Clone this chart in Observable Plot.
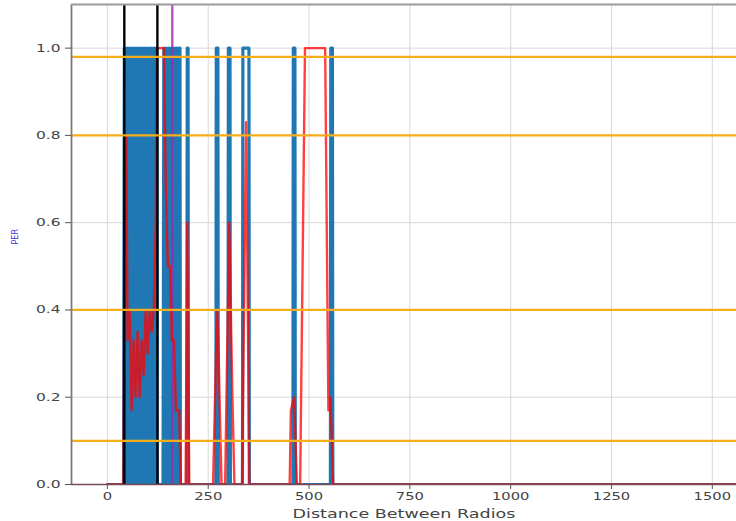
<!DOCTYPE html>
<html>
<head>
<meta charset="utf-8">
<script src="https://cdn.jsdelivr.net/npm/d3@7"></script>
<script src="https://cdn.jsdelivr.net/npm/@observablehq/plot@0.6"></script>
<style>
  html, body { margin: 0; padding: 0; background: #fff; }
</style>
</head>
<body>
<div id="chart"></div>
<script>
// ---- data ----
const xTicks = [0, 250, 500, 750, 1000, 1250, 1500];
const yTicks = [0.0, 0.2, 0.4, 0.6, 0.8, 1.0];
const thresholds = [0.98, 0.8, 0.4, 0.1];
const blackMarkers = [42, 124];
const purpleMarkers = [161];

// blue series: packet error (0 / 1) vs distance
const blueDist = [0, 40,
  42, 45, 48, 51, 54, 57, 60, 63, 66, 67, 69, 71, 73, 76, 79, 82, 85, 88, 91, 94, 97, 100, 103, 106, 109, 110, 112, 114, 116, 119, 121, 123, 124,
  138, 140, 143, 146, 149, 152, 155, 158, 161, 164, 167, 170, 171, 173, 175, 177, 180, 181,
  197, 198, 200, 201,
  269, 270, 274, 275,
  299, 300, 304, 305,
  335, 336, 351, 352,
  460, 461, 465, 466,
  553, 554, 558, 559,
  1650];
const bluePER = [0, 0,
  1, 0, 1, 0, 1, 0, 1, 0, 1, 1, 0, 0, 1, 0, 1, 0, 1, 0, 1, 0, 1, 0, 1, 0, 1, 1, 0, 0, 1, 0, 1, 1, 0,
  0, 1, 0, 1, 0, 1, 0, 1, 0, 1, 0, 1, 1, 0, 0, 1, 1, 0,
  0, 1, 1, 0,
  0, 1, 1, 0,
  0, 1, 1, 0,
  0, 1, 1, 0,
  0, 1, 1, 0,
  0, 1, 1, 0,
  0];

// red series: averaged PER vs distance
const redDist = [0, 40, 43, 47, 50, 55, 60, 65, 70, 75, 80, 85, 90, 95, 100, 105, 110, 115, 120, 122,
  140, 145, 150, 155, 160, 165, 170, 178, 182,
  194, 198, 203,
  262, 272, 275, 283,
  292, 302, 310, 315,
  334, 344, 352,
  452, 455, 463, 470,
  478, 490, 540, 548, 553, 560,
  1650];
const redPER = [0, 0, 0.8, 0.8, 0.33, 0.4, 0.17, 0.33, 0.2, 0.35, 0.2, 0.33, 0.25, 0.4, 0.3, 0.4, 0.35, 0.4, 0.6, 1.0,
  1.0, 0.67, 0.5, 0.5, 0.33, 0.33, 0.17, 0.17, 0,
  0, 0.6, 0,
  0, 0.4, 0.33, 0,
  0, 0.6, 0.2, 0,
  0, 0.83, 0,
  0, 0.17, 0.2, 0,
  0, 1.0, 1.0, 0.17, 0.2, 0,
  0];

const blue = blueDist.map((d, i) => ({d, v: bluePER[i]}));
const red = redDist.map((d, i) => ({d, v: redPER[i]}));

const chart = Plot.plot({
  width: 736,
  height: 521,
  marginLeft: 71,
  marginRight: 0,
  marginTop: 4,
  marginBottom: 37,
  style: {fontFamily: "DejaVu Sans", fontSize: "10.5px", color: "#444", background: "#fff"},
  x: {domain: [-89, 1560]},
  y: {domain: [0, 1.1]},
  marks: [
    Plot.gridX(xTicks, {stroke: "#d8d8d8", strokeOpacity: 1, strokeWidth: 1}),
    Plot.gridY(yTicks, {stroke: "#d8d8d8", strokeOpacity: 1, strokeWidth: 1}),
    Plot.line(blue, {x: "d", y: "v", stroke: "#1f77b4", strokeWidth: 3.2, strokeLinejoin: "round", curve: "linear", clip: true}),
    Plot.ruleX(purpleMarkers, {stroke: "#9c2aa8", strokeWidth: 2.2, strokeOpacity: 0.85}),
    Plot.line(red, {x: "d", y: "v", stroke: "#ff0000", strokeOpacity: 0.75, strokeWidth: 2.4, strokeLinejoin: "round", clip: true}),
    Plot.ruleX(blackMarkers, {stroke: "#000", strokeWidth: 2.4}),
    Plot.ruleY(thresholds, {stroke: "#f5ae1a", strokeWidth: 2.2}),
    Plot.ruleX([-89], {stroke: "#7a7a7a", strokeWidth: 1.8}),
    Plot.ruleY([1.1], {stroke: "#9a9a9a", strokeWidth: 1.8}),
    Plot.ruleY([0], {stroke: "#7a4a55", strokeWidth: 1.5}),
    Plot.axisX(xTicks, {tickSize: 5, tickPadding: 3, stroke: "#555", fill: "#444", tickFormat: d => String(d),
      label: "Distance Between Radios", labelAnchor: "center", labelArrow: "none", labelOffset: 33}),
    Plot.axisY(yTicks, {tickSize: 6, tickPadding: 5, stroke: "#555", fill: "#444", fontSize: 11, tickFormat: d3.format(".1f"), label: null}),
    Plot.text(["PER"], {frameAnchor: "left", dx: -56, rotate: -90, fill: "#3030e0", fontSize: 8, text: d => d})
  ]
});

document.getElementById("chart").appendChild(chart);

// the source image is horizontally stretched: widen glyphs to match
chart.querySelectorAll("text").forEach(t => {
  if (t.textContent === "PER") return;
  const g = t.closest("g");
  const aria = (g && g.getAttribute("aria-label")) || "";
  const isLabel = aria.includes("axis label") && !aria.includes("tick");
  if (isLabel) { t.style.fontSize = "12px"; }
  const len = t.getComputedTextLength();
  if (len > 0) {
    t.setAttribute("textLength", (len * (isLabel ? 1.46 : 1.4)).toFixed(1));
    t.setAttribute("lengthAdjust", "spacingAndGlyphs");
  }
});
</script>
</body>
</html>
